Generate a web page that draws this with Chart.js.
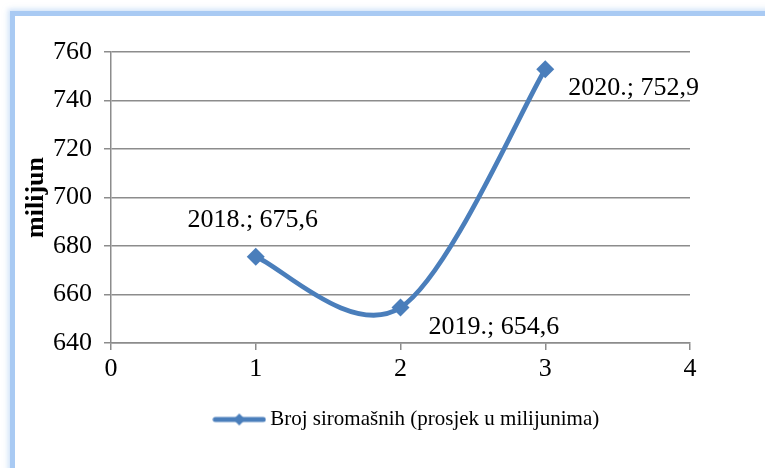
<!DOCTYPE html>
<html>
<head>
<meta charset="utf-8">
<script src="https://cdn.jsdelivr.net/npm/chart.js@4/dist/chart.umd.min.js"></script>
<style>
  html, body { margin: 0; padding: 0; background: #ffffff; }
  body { width: 765px; height: 468px; position: relative; overflow: hidden; }
  #frame {
    position: absolute; left: 10px; top: 11px; width: 800px; height: 500px;
    border: 5px solid #A9CAF3; background: #ffffff;
    box-shadow: 0 0 5px 2px rgba(169, 202, 243, 0.55);
  }
  #wrap { position: absolute; left: 0; top: 0; width: 765px; height: 468px; }
</style>
</head>
<body>
<div id="frame"></div>
<div id="wrap"><canvas id="c" width="765" height="468"></canvas></div>
<script>
// ---- data ----
const years = ['2018.', '2019.', '2020.'];
const xPositions = [1, 2, 3];
const values = [675.6, 654.6, 752.9];
const seriesName = 'Broj siromašnih (prosjek u milijunima)';
const yAxisTitle = 'milijun';
const yMin = 640, yMax = 760, yStep = 20;
const xMin = 0, xMax = 4, xStep = 1;

const BLUE = '#4A7EBB';
const GRID = '#8C8C8C';
const SERIF = '"Liberation Serif", "Times New Roman", serif';

// legend sample: line with a diamond marker
function legendSample() {
  const cv = document.createElement('canvas');
  cv.width = 54; cv.height = 14;
  const g = cv.getContext('2d');
  g.strokeStyle = BLUE; g.lineWidth = 5; g.lineCap = 'round';
  g.beginPath(); g.moveTo(3, 7); g.lineTo(51, 7); g.stroke();
  g.fillStyle = BLUE;
  g.beginPath(); g.moveTo(27, 1); g.lineTo(33, 7); g.lineTo(27, 13); g.lineTo(21, 7); g.closePath(); g.fill();
  return cv;
}
const sample = legendSample();

const labelOffsets = [
  { dx: -3, dy: -36, align: 'center' },
  { dx: 28, dy: 20, align: 'left' },
  { dx: 23, dy: 19, align: 'left' }
];

// Excel-like smoothing (Catmull-Rom style control points)
const excelSmooth = {
  id: 'excelSmooth',
  beforeDatasetDraw(chart, args) {
    const meta = chart.getDatasetMeta(args.index);
    const line = meta.dataset;
    if (!line) return;
    if (line.updateControlPoints) line.updateControlPoints(chart.chartArea, 'x');
    const pts = meta.data;
    for (let i = 0; i < pts.length; i++) {
      const p = pts[i];
      const prev = pts[i - 1] || p;
      const next = pts[i + 1] || p;
      const tx = (next.x - prev.x) / 6;
      const ty = (next.y - prev.y) / 6;
      p.cp1x = p.x - tx; p.cp1y = p.y - ty;
      p.cp2x = p.x + tx; p.cp2y = p.y + ty;
    }
    line._pointsUpdated = true;
    line._path = undefined;
  }
};

const dataLabels = {
  id: 'dataLabels',
  afterDatasetsDraw(chart) {
    const meta = chart.getDatasetMeta(0);
    const ctx = chart.ctx;
    ctx.save();
    ctx.font = '26px ' + SERIF;
    ctx.fillStyle = '#000000';
    ctx.textBaseline = 'middle';
    meta.data.forEach((pt, i) => {
      const o = labelOffsets[i];
      ctx.textAlign = o.align;
      const txt = years[i] + '; ' + values[i].toFixed(1).replace('.', ',');
      ctx.fillText(txt, pt.x + o.dx, pt.y + o.dy);
    });
    ctx.restore();
  }
};

const legendShift = {
  id: 'legendShift',
  afterLayout(chart) {
    const d = 59;
    chart.legend.left += d;
    chart.legend.right += d;
  }
};

new Chart(document.getElementById('c'), {
  type: 'line',
  data: {
    datasets: [{
      label: seriesName,
      data: xPositions.map((x, i) => ({ x: x, y: values[i] })),
      borderColor: BLUE,
      backgroundColor: BLUE,
      borderWidth: 4.8,
      pointStyle: 'rectRot',
      pointRadius: 9,
      pointBackgroundColor: BLUE,
      pointBorderColor: BLUE,
      pointBorderWidth: 0,
      tension: 0.4,
      fill: false,
      clip: false
    }]
  },
  options: {
    responsive: false,
    animation: false,
    events: [],
    layout: { padding: { left: 10, right: 75, top: 52, bottom: 28 } },
    plugins: {
      tooltip: { enabled: false },
      legend: {
        position: 'bottom',
        labels: {
          color: '#000000',
          font: { family: SERIF, size: 21 },
          usePointStyle: true,
          pointStyleWidth: 41,
          padding: 10,
          generateLabels: () => [{
            text: seriesName, pointStyle: sample, fillStyle: BLUE,
            strokeStyle: BLUE, lineWidth: 0, hidden: false, datasetIndex: 0
          }]
        }
      }
    },
    scales: {
      x: {
        type: 'linear', min: xMin, max: xMax,
        afterFit(s) { s.height = 56; },
        ticks: { stepSize: xStep, color: '#000000', font: { family: SERIF, size: 26 }, padding: 4, maxRotation: 0 },
        grid: { drawOnChartArea: false, drawTicks: true, tickLength: 7, color: GRID, lineWidth: 1.5 },
        border: { display: true, color: GRID, width: 1.5 }
      },
      y: {
        min: yMin, max: yMax,
        afterFit(s) { s.width = 101; },
        ticks: { stepSize: yStep, color: '#000000', font: { family: SERIF, size: 26 }, padding: 12 },
        grid: { drawTicks: true, tickLength: 7, color: GRID, lineWidth: 1.5 },
        border: { display: true, color: GRID, width: 1.5 },
        title: { display: true, text: yAxisTitle, color: '#000000', font: { family: SERIF, size: 26, weight: 'bold' }, padding: { top: 11, bottom: 0 } }
      }
    }
  },
  plugins: [excelSmooth, dataLabels, legendShift]
});
</script>
</body>
</html>
